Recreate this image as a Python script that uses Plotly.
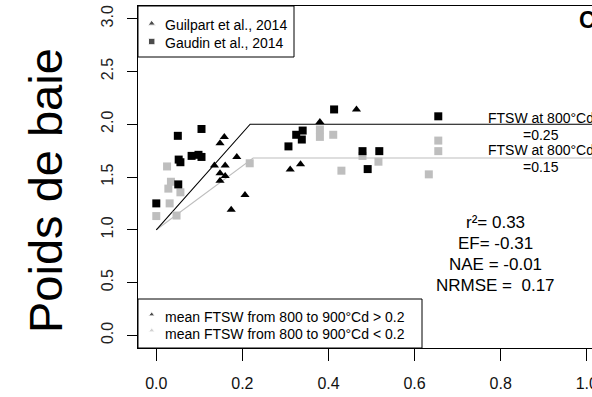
import plotly.graph_objects as go

# ---------------- data ----------------
# Guilpart et al., 2014 (mean FTSW 800-900°Cd > 0.2, black triangles)
guilpart_ftsw = [0.158, 0.148, 0.187, 0.135, 0.160, 0.148, 0.160, 0.148, 0.206, 0.174,
                 0.465, 0.380, 0.311, 0.335]
guilpart_weight = [1.88, 1.82, 1.69, 1.61, 1.61, 1.535, 1.51, 1.465, 1.33, 1.19,
                   2.14, 2.02, 1.57, 1.62]

# Gaudin et al., 2014, mean FTSW > 0.2 (black squares)
gaudin_high_ftsw = [0.050, 0.105, 0.052, 0.056, 0.082, 0.098, 0.105, 0.051, 0.000,
                    0.413, 0.655, 0.340, 0.325, 0.338, 0.307, 0.479, 0.518, 0.491]
gaudin_high_weight = [1.89, 1.955, 1.665, 1.64, 1.70, 1.71, 1.69, 1.43, 1.25,
                      2.14, 2.075, 1.94, 1.90, 1.855, 1.79, 1.745, 1.745, 1.575]

# Gaudin et al., 2014, mean FTSW < 0.2 (grey squares)
gaudin_low_ftsw = [0.025, 0.034, 0.028, 0.056, 0.031, 0.000, 0.047, 0.217,
                   0.380, 0.380, 0.411, 0.655, 0.655, 0.516, 0.430, 0.633, 0.479]
gaudin_low_weight = [1.60, 1.455, 1.39, 1.355, 1.25, 1.13, 1.135, 1.63,
                     1.95, 1.88, 1.90, 1.845, 1.745, 1.645, 1.56, 1.525, 1.70]

# model lines
model_high_x = [0.0, 0.218, 1.1]
model_high_y = [1.0, 2.0, 2.0]
model_low_x = [0.0, 0.225, 1.1]
model_low_y = [1.0, 1.68, 1.68]

x_ticks = [0.0, 0.2, 0.4, 0.6, 0.8, 1.0]
y_ticks = [0.0, 0.5, 1.0, 1.5, 2.0, 2.5, 3.0]

legend_study = ["Guilpart et al., 2014", "Gaudin et al., 2014"]
legend_group = ["mean FTSW from 800 to 900°Cd > 0.2", "mean FTSW from 800 to 900°Cd < 0.2"]
stats_text = ["r²= 0.33", "EF= -0.31", "NAE = -0.01", "NRMSE =\u00a0\u00a00.17"]
threshold_lines = ["FTSW at 800°Cd", "=0.25", "FTSW at 800°Cd", "=0.15"]

# ---------------- style ----------------
FONT = "Liberation Sans, Arial, sans-serif"
GREY = "#bebebe"
W, H = 592, 397
L, R, T, B = 138, 0, 6, 49

fig = go.Figure()

fig.add_trace(go.Scatter(x=model_low_x, y=model_low_y, mode="lines",
                         line=dict(color=GREY, width=1.1), hoverinfo="skip"))
fig.add_trace(go.Scatter(x=model_high_x, y=model_high_y, mode="lines",
                         line=dict(color="black", width=1.1), hoverinfo="skip"))
fig.add_trace(go.Scatter(x=gaudin_low_ftsw, y=gaudin_low_weight, mode="markers",
                         marker=dict(symbol="square", size=8, color=GREY)))
fig.add_trace(go.Scatter(x=gaudin_high_ftsw, y=gaudin_high_weight, mode="markers",
                         marker=dict(symbol="square", size=8, color="black")))
fig.add_trace(go.Scatter(x=guilpart_ftsw, y=guilpart_weight, mode="markers",
                         marker=dict(symbol="triangle-up", size=8, color="black")))

# legend keys drawn on a pixel-unit overlay axis (layout positions)
key_x = [151.7, 151.7, 151.7, 151.7]
key_y = [23.5, 41.5, 314.5, 330.5]
fig.add_trace(go.Scatter(
    x=key_x, y=key_y, xaxis="x2", yaxis="y2", mode="markers", hoverinfo="skip",
    marker=dict(symbol=["triangle-up", "square", "triangle-up", "triangle-up"],
                size=[6.5, 6.5, 5.5, 5.5], color=["black", "black", "black", GREY])))

shapes = [
    dict(type="rect", xref="x2", yref="y2", x0=138, x1=294, y0=6, y1=57,
         line=dict(color="black", width=1), fillcolor="white", layer="below"),
    dict(type="rect", xref="x2", yref="y2", x0=138, x1=422, y0=299, y1=348,
         line=dict(color="black", width=1), fillcolor="white", layer="below"),
]

annotations = []
for txt, yy in zip(legend_study, [25, 42.5]):
    annotations.append(dict(xref="x2", yref="y2", x=163, y=yy, text=txt, showarrow=False,
                            xanchor="left", yanchor="middle",
                            font=dict(family=FONT, size=14, color="black")))
for txt, yy in zip(legend_group, [317, 334]):
    annotations.append(dict(xref="x2", yref="y2", x=163, y=yy, text=txt, showarrow=False,
                            xanchor="left", yanchor="middle",
                            font=dict(family=FONT, size=14, color="black")))
for txt, yy in zip(threshold_lines, [118, 135, 150, 167]):
    annotations.append(dict(xref="x2", yref="y2", x=541, y=yy, text=txt, showarrow=False,
                            xanchor="center", yanchor="middle", align="center",
                            font=dict(family=FONT, size=14, color="black")))
for txt, yy in zip(stats_text, [222, 243, 264, 285]):
    annotations.append(dict(xref="x2", yref="y2", x=495, y=yy, text=txt,
                            showarrow=False, xanchor="center", yanchor="middle",
                            font=dict(family=FONT, size=17, color="black")))
annotations.append(dict(xref="x2", yref="y2", x=577, y=20, text="<b>C</b>", showarrow=False,
                        xanchor="left", yanchor="middle",
                        font=dict(family=FONT, size=23, color="black")))
annotations.append(dict(xref="paper", yref="paper", x=(45 - L) / (W - L - R),
                        y=(H - B - 191) / (H - T - B), text="Poids de baie", textangle=-90,
                        showarrow=False, xanchor="center", yanchor="middle",
                        font=dict(family=FONT, size=47, color="black")))

x0_px, sx = 156.3, 430.5
fig.update_layout(
    width=W, height=H, margin=dict(l=L, r=R, t=T, b=B, pad=0, autoexpand=False),
    paper_bgcolor="white", plot_bgcolor="white", showlegend=False,
    font=dict(family=FONT, color="black"),
    xaxis=dict(range=[(L - x0_px) / sx, (W - R - x0_px) / sx], tickvals=x_ticks,
               tickformat=".1f", ticks="outside", ticklen=12, tickwidth=1, tickcolor="black",
               showline=True, mirror=True, linecolor="black", linewidth=1, automargin=False,
               showgrid=False, zeroline=False, tickfont=dict(family=FONT, size=16, color="#111"),
               ticklabelstandoff=9, ticklabeloverflow="allow"),
    yaxis=dict(range=[-0.12, 3.12], tickvals=y_ticks, tickformat=".1f", ticks="outside",
               ticklen=10, tickwidth=1, tickcolor="black", tickangle=-90, automargin=False,
               showline=True, mirror=False, linecolor="black", linewidth=1,
               showgrid=False, zeroline=False, tickfont=dict(family=FONT, size=16, color="#222"),
               ticklabelstandoff=8, ticklabeloverflow="allow"),
    xaxis2=dict(overlaying="x", range=[L, W - R], visible=False, showgrid=False,
                zeroline=False, automargin=False),
    yaxis2=dict(overlaying="y", anchor="x2", range=[H - B, T], visible=False,
                showgrid=False, zeroline=False, automargin=False),
    shapes=shapes, annotations=annotations,
)

fig.write_html("out.html")
